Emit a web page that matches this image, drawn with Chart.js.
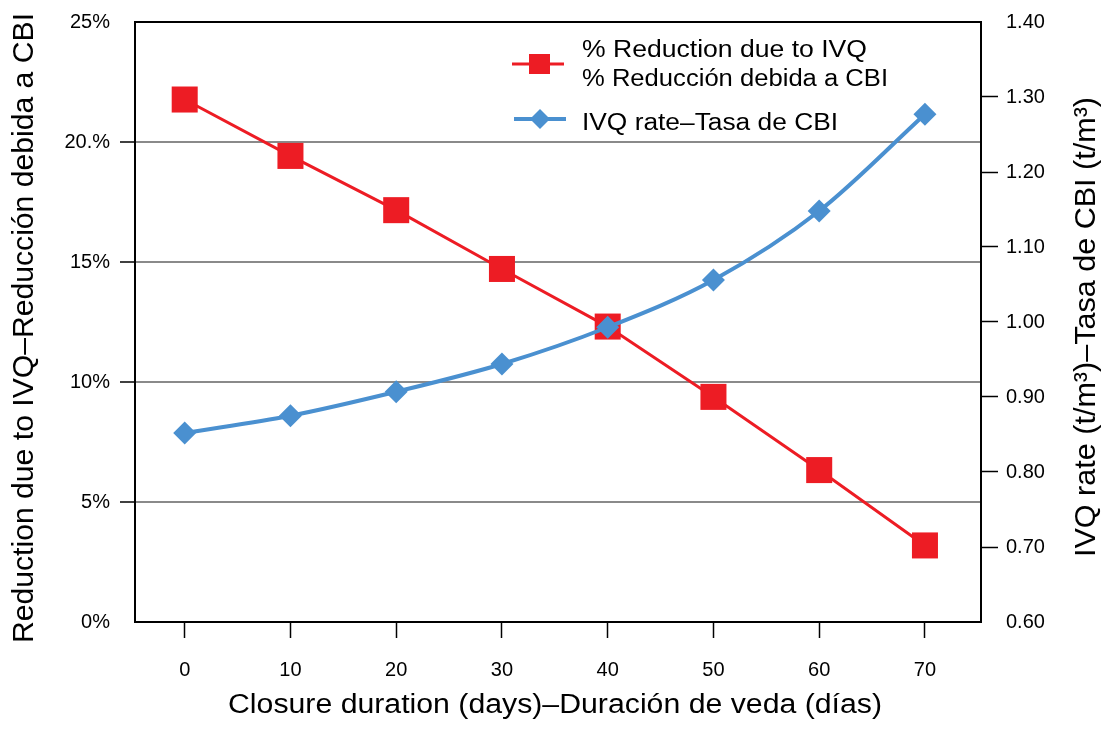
<!DOCTYPE html>
<html>
<head>
<meta charset="utf-8">
<script src="https://cdn.jsdelivr.net/npm/chart.js@4/dist/chart.umd.min.js"></script>
<style>
  body { margin: 0; background: #fff; }
  #wrap { width: 1105px; height: 729px; }
</style>
</head>
<body>
<div id="wrap"><canvas id="chart"></canvas></div>
<script>
// data
const days = [0, 10, 20, 30, 40, 50, 60, 70];
const reductionPct = [21.77, 19.42, 17.16, 14.71, 12.31, 9.38, 6.33, 3.19];
const ivqRate = [0.852, 0.875, 0.907, 0.944, 0.993, 1.056, 1.148, 1.277];
const leftTicks = [0, 5, 10, 15, 20, 25];
const leftTickLabels = ['0%', '5%', '10%', '15%', '20.%', '25%'];
const rightTicks = [0.6, 0.7, 0.8, 0.9, 1.0, 1.1, 1.2, 1.3, 1.4];

const RED = '#ED1C24';
const BLUE = '#4A90D0';
const FONT = "'Liberation Sans', Arial, Helvetica, sans-serif";

Chart.defaults.font.family = FONT;
Chart.defaults.color = '#000';

// draw text squeezed/stretched to a given length
function fitText(ctx, text, x, y, size, len, rot) {
  ctx.save();
  ctx.font = size + 'px ' + FONT;
  const w = ctx.measureText(text).width;
  ctx.translate(x, y);
  if (rot) ctx.rotate(rot);
  ctx.scale(len / w, 1);
  ctx.fillText(text, 0, 0);
  ctx.restore();
}

// frame, legend and axis titles
const extras = {
  id: 'extras',
  beforeDatasetsDraw(chart) {
    const { ctx, chartArea: a } = chart;
    ctx.save();
    ctx.strokeStyle = '#000';
    ctx.lineWidth = 2;
    ctx.strokeRect(a.left, a.top, a.right - a.left, a.bottom - a.top);
    ctx.restore();
  },
  afterDraw(chart) {
    const { ctx } = chart;
    ctx.save();
    // legend
    ctx.lineWidth = 3;
    ctx.strokeStyle = RED;
    ctx.beginPath(); ctx.moveTo(512, 64); ctx.lineTo(564, 64); ctx.stroke();
    ctx.fillStyle = RED;
    ctx.fillRect(529, 54, 21, 20);
    ctx.strokeStyle = BLUE;
    ctx.lineWidth = 4;
    ctx.beginPath(); ctx.moveTo(514, 119); ctx.lineTo(566, 119); ctx.stroke();
    ctx.fillStyle = BLUE;
    ctx.beginPath();
    ctx.moveTo(540, 109); ctx.lineTo(550, 119); ctx.lineTo(540, 129); ctx.lineTo(530, 119);
    ctx.closePath(); ctx.fill();

    ctx.fillStyle = '#000';
    ctx.textAlign = 'left';
    ctx.textBaseline = 'alphabetic';
    fitText(ctx, '% Reduction due to IVQ', 582, 57, 23, 285);
    fitText(ctx, '% Reducción debida a CBI', 582, 86, 23, 306);
    fitText(ctx, 'IVQ rate–Tasa de CBI', 582, 130, 23, 256);

    // axis titles
    ctx.textAlign = 'center';
    fitText(ctx, 'Closure duration (days)–Duración de veda (días)', 555, 713, 27, 654);
    ctx.textBaseline = 'middle';
    fitText(ctx, 'Reduction due to IVQ–Reducción debida a CBI', 25, 328, 30, 630, -Math.PI / 2);
    fitText(ctx, 'IVQ rate (t/m³)–Tasa de CBI (t/m³)', 1087, 327, 30, 460, -Math.PI / 2);
    ctx.restore();
  }
};

const inner = (lo, hi) => c => (c.tick && c.tick.value > lo + 1e-6 && c.tick.value < hi - 1e-6);

new Chart(document.getElementById('chart'), {
  type: 'line',
  data: {
    datasets: [{
      label: '% Reduction due to IVQ / % Reducción debida a CBI',
      data: days.map((d, i) => ({ x: d, y: reductionPct[i] })),
      yAxisID: 'y',
      borderColor: RED,
      backgroundColor: RED,
      borderWidth: 3,
      pointStyle: 'rect',
      pointRadius: 18.4,
      pointBorderWidth: 0,
      tension: 0,
      order: 2
    }, {
      label: 'IVQ rate–Tasa de CBI',
      data: days.map((d, i) => ({ x: d, y: ivqRate[i] })),
      yAxisID: 'y1',
      borderColor: BLUE,
      backgroundColor: BLUE,
      borderWidth: 4,
      pointStyle: 'rectRot',
      pointRadius: 11.5,
      pointBorderWidth: 0,
      cubicInterpolationMode: 'monotone',
      order: 1
    }]
  },
  options: {
    responsive: true,
    maintainAspectRatio: false,
    animation: false,
    layout: { padding: { top: 22 } },
    plugins: {
      legend: { display: false },
      tooltip: { enabled: false }
    },
    scales: {
      x: {
        type: 'linear',
        min: -4.7,
        max: 75.3,
        afterBuildTicks: s => { s.ticks = days.map(v => ({ value: v })); },
        afterFit: s => { s.height = 107; },
        border: { display: false },
        grid: { drawOnChartArea: false, tickLength: 16, tickColor: '#000', tickWidth: 1.5 },
        ticks: { font: { size: 20 }, padding: 20, callback: v => String(v) }
      },
      y: {
        position: 'left',
        min: 0,
        max: 25,
        afterBuildTicks: s => { s.ticks = leftTicks.map(v => ({ value: v })); },
        afterFit: s => { s.width = 135; },
        border: { display: false },
        grid: {
          color: c => inner(0, 25)(c) ? '#8a8a8a' : 'rgba(0,0,0,0)',
          lineWidth: 2,
          tickLength: 15,
          tickColor: c => inner(0, 25)(c) ? '#000' : 'rgba(0,0,0,0)',
          tickWidth: 1.5
        },
        ticks: {
          font: { size: 20 },
          padding: 10,
          callback: v => leftTickLabels[leftTicks.indexOf(v)]
        }
      },
      y1: {
        position: 'right',
        min: 0.6,
        max: 1.4,
        afterBuildTicks: s => { s.ticks = rightTicks.map(v => ({ value: v })); },
        afterFit: s => { s.width = 124; },
        border: { display: false },
        grid: {
          drawOnChartArea: false,
          tickLength: 17,
          tickColor: c => inner(0.6, 1.4)(c) ? '#000' : 'rgba(0,0,0,0)',
          tickWidth: 1.5
        },
        ticks: {
          font: { size: 20 },
          padding: 8,
          callback: v => v.toFixed(2)
        }
      }
    }
  },
  plugins: [extras]
});
</script>
</body>
</html>
